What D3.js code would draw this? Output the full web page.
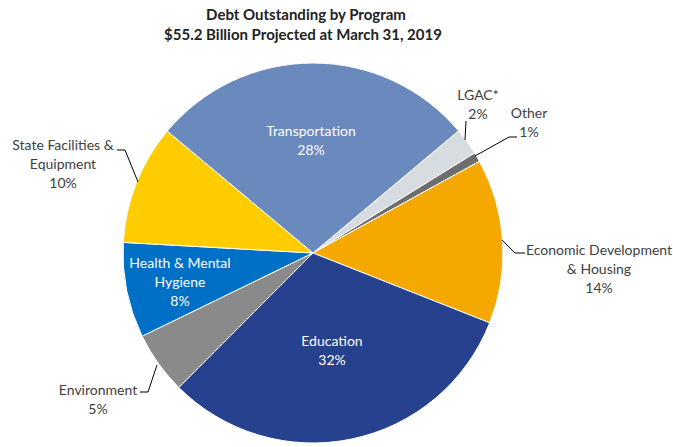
<!DOCTYPE html>
<html><head><meta charset="utf-8">
<script src="https://cdn.jsdelivr.net/npm/d3@7"></script>
<style>body{margin:0;background:#fff}text{font-family:Lato,"Noto Sans",sans-serif}</style>
</head><body>
<svg id="c" width="673" height="447"></svg>
<script>
const categories = ["LGAC*","Other","Economic Development & Housing","Education","Environment","Health & Mental Hygiene","State Facilities & Equipment","Transportation"];
const values = [2.3, 0.8, 14.0, 31.5, 5.3, 8.1, 10.2, 27.8];
const pctLabels = ["2%","1%","14%","32%","5%","8%","10%","28%"];
const colors = ["#D6DCE0","#6D6D6D","#F5A800","#26418D","#8A8A8A","#0070C6","#FFCC00","#6A89BD"];

const svg = d3.select("#c");
const cx = 313, cy = 253, r = 190;
const start = 50 * Math.PI/180;
const pie = d3.pie().sort(null).value(d=>d).startAngle(start).endAngle(start + 2*Math.PI);
const arcs = pie(values);
const arc = d3.arc().innerRadius(0).outerRadius(r);
const g = svg.append("g").attr("transform",`translate(${cx},${cy})`);
g.selectAll("path").data(arcs).join("path")
 .attr("d",arc).attr("fill",(d,i)=>colors[i]).attr("stroke","#fff").attr("stroke-width",1);

// title
svg.append("text").attr("x",306).attr("y",20).attr("text-anchor","middle").attr("font-weight","bold").attr("font-size",15).attr("fill","#222").text("Debt Outstanding by Program");
svg.append("text").attr("x",303).attr("y",40).attr("text-anchor","middle").attr("font-weight","bold").attr("font-size",15).attr("fill","#222").text("$55.2 Billion Projected at March 31, 2019");

function label(lines, x, y, color){
  const t = svg.append("text").attr("text-anchor","middle").attr("font-size",14).attr("fill",color);
  lines.forEach((l,i)=>t.append("tspan").attr("x",x).attr("y",y+i*19).text(l));
}
label(["Transportation", pctLabels[7]], 311, 136, "#fff");
label(["Education", pctLabels[3]], 332, 346, "#fff");
label(["Health & Mental","Hygiene", pctLabels[5]], 180, 268, "#fff");
label(["LGAC*", pctLabels[0]], 478, 100, "#404040");
label(["Other", pctLabels[1]], 529, 118, "#404040");
label(["Economic Development","& Housing", pctLabels[2]], 599, 255, "#404040");
label(["State Facilities &","Equipment", pctLabels[6]], 63, 150, "#404040");
label(["Environment", pctLabels[4]], 98, 395, "#404040");

const leaders = [
  [[466,121],[465,140]],
  [[517,137],[509,137],[475,156]],
  [[502,240],[515,253],[525,253]],
  [[117,150],[125,150],[138,182]],
  [[140,392],[148,392],[157,365]]
];
const line = d3.line();
leaders.forEach(p=>svg.append("path").attr("d",line(p)).attr("fill","none").attr("stroke","#000").attr("stroke-width",1));
</script>
</body></html>
